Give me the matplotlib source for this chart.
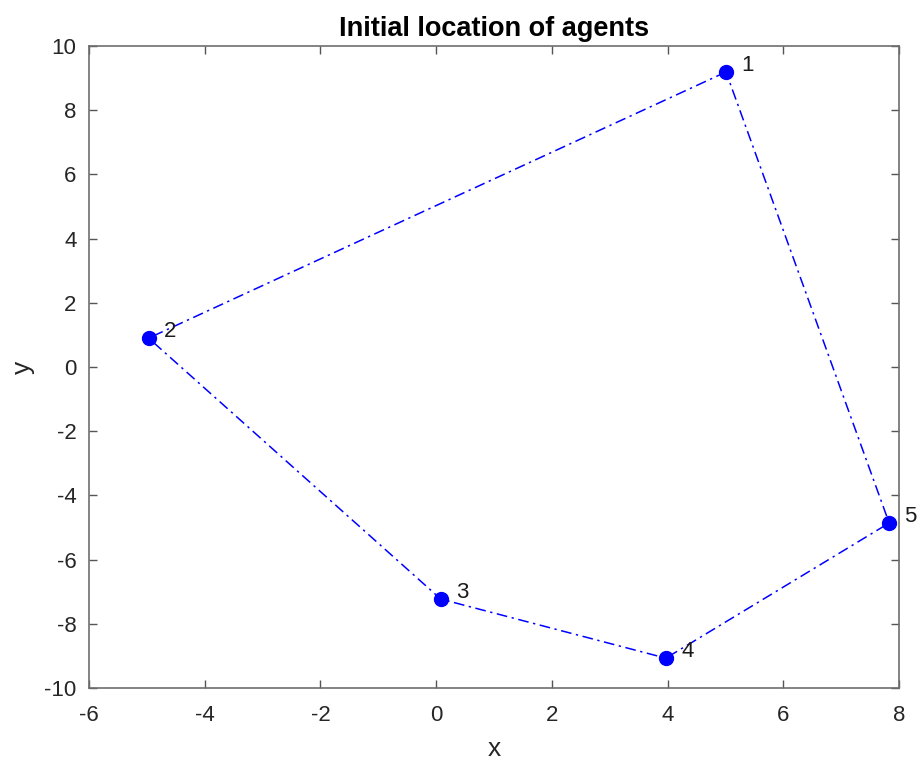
import numpy as np
import matplotlib.pyplot as plt

plt.rcParams['font.family'] = ['Liberation Sans', 'DejaVu Sans']
plt.rcParams['axes.unicode_minus'] = False

agent_ids = ['1', '2', '3', '4', '5']
x_vals = [5.01, -4.97, 0.08, 3.97, 7.83]
y_vals = [9.19, 0.90, -7.23, -9.07, -4.86]

fig = plt.figure(figsize=(9.22, 7.65), dpi=100)
ax = fig.add_axes([89 / 922, 1 - 688 / 765, 810 / 922, 642 / 765])

# closed polygon through the agents
xs = x_vals + [x_vals[0]]
ys = y_vals + [y_vals[0]]
ax.plot(xs, ys, color='blue', linestyle=(0, (7, 3, 1.5, 3)), linewidth=1.1)
ax.plot(x_vals, y_vals, 'o', color='blue', markersize=10)

for lbl, x, y in zip(agent_ids, x_vals, y_vals):
    ax.annotate(lbl, (x, y), xytext=(11, 5), textcoords='offset points',
                ha='left', va='center', fontsize=16, color='#1a1a1a')

ax.set_xlim(-6, 8)
ax.set_ylim(-10, 10)
ax.set_xticks(np.arange(-6, 9, 2))
ax.set_yticks(np.arange(-10, 11, 2))
ax.tick_params(direction='in', top=True, right=True, length=6, width=1,
               labelsize=16, colors='#555555', labelcolor='#262626', pad=9)
ax.tick_params(axis='x', pad=12)
for s in ax.spines.values():
    s.set_color('#6e6e6e')
    s.set_linewidth(1.2)

ax.set_title('Initial location of agents', fontsize=19.5, fontweight='bold', pad=7)
ax.set_xlabel('x', fontsize=19, color='#262626', labelpad=8)
ax.set_ylabel('y', fontsize=19, color='#262626', labelpad=7)

fig.savefig('out.png', dpi=100)
